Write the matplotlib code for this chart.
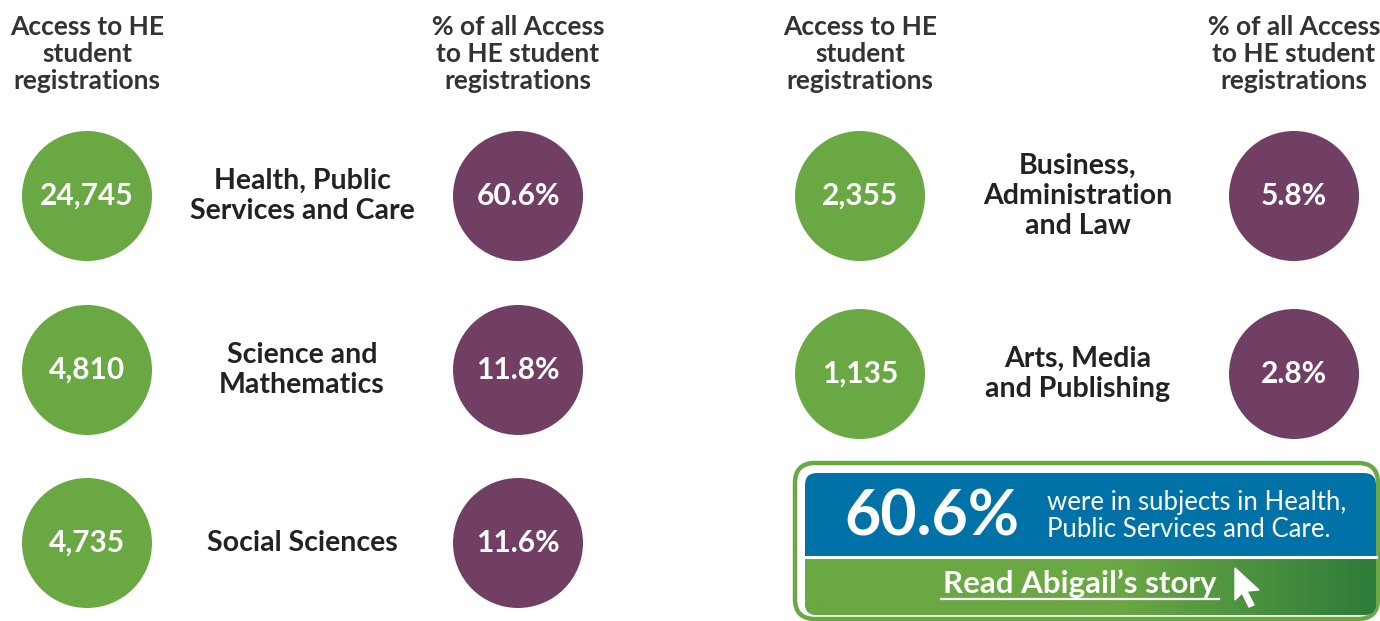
import numpy as np
import matplotlib
matplotlib.use("Agg")
import matplotlib.pyplot as plt
from matplotlib.patches import Circle, FancyBboxPatch, Polygon
from matplotlib.colors import LinearSegmentedColormap

plt.rcParams['font.family'] = ['Lato', 'DejaVu Sans']

# Dados
subjects = ["Health, Public\nServices and Care", "Science and\nMathematics", "Social Sciences",
            "Business,\nAdministration\nand Law", "Arts, Media\nand Publishing"]
registrations = ["24,745", "4,810", "4,735", "2,355", "1,135"]
percents = ["60.6%", "11.8%", "11.6%", "5.8%", "2.8%"]
header_left = "Access to HE\nstudent\nregistrations"
header_right = "% of all Access\nto HE student\nregistrations"
highlight_value = "60.6%"
highlight_text = "were in subjects in Health,\nPublic Services and Care."
link_text = "Read Abigail\u2019s story"

GREEN = "#6aa843"
PURPLE = "#713f63"
BLUE = "#0072a8"
DARK = "#333333"

fig = plt.figure(figsize=(13.8, 6.21), dpi=100)
ax = fig.add_axes([0, 0, 1, 1])
ax.set_xlim(0, 1380)
ax.set_ylim(621, 0)
ax.set_aspect("equal")
ax.axis("off")

# colunas: (x do círculo verde, x do rótulo, x do círculo roxo)
cols = [(87, 302, 518), (860, 1078, 1294)]
rows_y = [[196, 370, 543], [196, 374]]
R = 65

for gx, lx, px in cols:
    for hx, txt in ((gx, header_left), (px, header_right)):
        ax.text(hx, 54, txt, ha="center", va="center", fontsize=19, fontweight="bold",
                color=DARK, linespacing=1.17)

k = 0
for c, (gx, lx, px) in enumerate(cols):
    for y in rows_y[c]:
        ax.add_patch(Circle((gx, y), R, color=GREEN, lw=0))
        ax.add_patch(Circle((px, y), R, color=PURPLE, lw=0))
        ax.text(gx, y, registrations[k], ha="center", va="center", fontsize=21.5,
                fontweight="bold", color="white")
        ax.text(px, y, percents[k], ha="center", va="center", fontsize=21.5,
                fontweight="bold", color="white")
        ax.text(lx, y, subjects[k], ha="center", va="center", fontsize=20.5,
                fontweight="bold", color="#222222", linespacing=1.2)
        k += 1

# caixa de destaque
outer = FancyBboxPatch((795, 463), 583, 156, boxstyle="round,pad=0,rounding_size=20",
                       fc="white", ec=GREEN, lw=3.2)
ax.add_patch(outer)
ax.add_patch(FancyBboxPatch((805, 473), 571, 142, boxstyle="round,pad=0,rounding_size=12",
                            fc=BLUE, ec="none"))
bar = FancyBboxPatch((805, 473), 571, 142, boxstyle="round,pad=0,rounding_size=12",
                     fc="none", ec="none")
ax.add_patch(bar)
cmap = LinearSegmentedColormap.from_list("g", [(0, GREEN), (0.55, GREEN), (1, "#2e7b3a")])
grad = np.linspace(0, 1, 256).reshape(1, -1)
im = ax.imshow(grad, extent=[805, 1376, 615, 558], cmap=cmap, aspect="auto", zorder=2)
im.set_clip_path(bar)
ax.plot([805, 1376], [556.5, 556.5], color="white", lw=2.2, zorder=3)

ax.text(932, 518, highlight_value, ha="center", va="center", fontsize=45, fontweight="bold",
        color="white", zorder=4)
ax.text(1047, 516, highlight_text, ha="left", va="center", fontsize=18.5, color="white",
        linespacing=1.1, zorder=4)
ax.text(1080, 584, link_text, ha="center", va="center", fontsize=22.5, fontweight="bold",
        color="white", zorder=4)
ax.plot([941, 1219], [599, 599], color="white", lw=1.6, zorder=4)
cursor = [(1235, 568), (1235, 600), (1242, 593), (1249, 607), (1254, 605), (1247, 591),
          (1259, 590)]
ax.add_patch(Polygon(cursor, closed=True, fc="white", ec="white", lw=1, zorder=4))

fig.savefig("out.png", dpi=100)
